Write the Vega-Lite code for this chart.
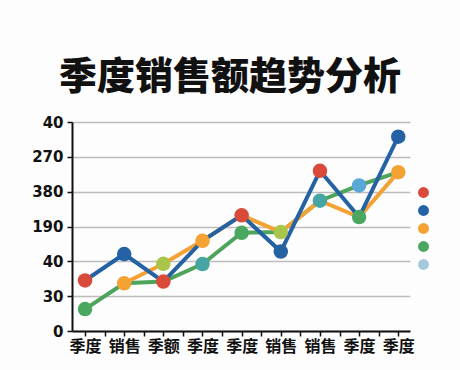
{
  "$schema": "https://vega.github.io/schema/vega-lite/v6.json",
  "width": 338,
  "height": 209,
  "autosize": {"type": "none"},
  "padding": {"left": 72, "top": 122, "right": 50, "bottom": 39},
  "background": "#fdfdfd",
  "title": {
    "text": "季度销售额趋势分析",
    "font": "Noto Sans CJK SC",
    "fontSize": 38,
    "fontWeight": 900,
    "color": "#111111",
    "anchor": "middle",
    "dx": -11,
    "offset": 18
  },
  "datasets": {
    "lines": [
      {"s": "green", "x": 1, "v": 0.63},
      {"s": "green", "x": 2, "v": 1.37},
      {"s": "green", "x": 3, "v": 1.42},
      {"s": "green", "x": 4, "v": 1.92},
      {"s": "green", "x": 5, "v": 2.82},
      {"s": "green", "x": 6, "v": 2.84},
      {"s": "green", "x": 7, "v": 3.74},
      {"s": "green", "x": 8, "v": 4.18},
      {"s": "green", "x": 9, "v": 4.56},
      {"s": "orange", "x": 2, "v": 1.37},
      {"s": "orange", "x": 3, "v": 1.93},
      {"s": "orange", "x": 4, "v": 2.59},
      {"s": "orange", "x": 5, "v": 3.32},
      {"s": "orange", "x": 6, "v": 2.84},
      {"s": "orange", "x": 7, "v": 3.74},
      {"s": "orange", "x": 8, "v": 3.27},
      {"s": "orange", "x": 9, "v": 4.56},
      {"s": "blue", "x": 1, "v": 1.45},
      {"s": "blue", "x": 2, "v": 2.21},
      {"s": "blue", "x": 3, "v": 1.42},
      {"s": "blue", "x": 4, "v": 2.59},
      {"s": "blue", "x": 5, "v": 3.32},
      {"s": "blue", "x": 6, "v": 2.28},
      {"s": "blue", "x": 7, "v": 4.6},
      {"s": "blue", "x": 8, "v": 3.27},
      {"s": "blue", "x": 9, "v": 5.58}
    ],
    "points": [
      {"x": 1, "v": 1.45, "c": "red"},
      {"x": 1, "v": 0.63, "c": "green"},
      {"x": 2, "v": 2.21, "c": "blue"},
      {"x": 2, "v": 1.37, "c": "orange"},
      {"x": 3, "v": 1.93, "c": "yellowgreen"},
      {"x": 3, "v": 1.42, "c": "red"},
      {"x": 4, "v": 2.59, "c": "orange"},
      {"x": 4, "v": 1.92, "c": "teal"},
      {"x": 5, "v": 3.32, "c": "red"},
      {"x": 5, "v": 2.82, "c": "green"},
      {"x": 6, "v": 2.84, "c": "yellowgreen"},
      {"x": 6, "v": 2.28, "c": "blue"},
      {"x": 7, "v": 4.6, "c": "red"},
      {"x": 7, "v": 3.74, "c": "teal"},
      {"x": 8, "v": 4.18, "c": "skyblue"},
      {"x": 8, "v": 3.27, "c": "green"},
      {"x": 9, "v": 5.58, "c": "blue"},
      {"x": 9, "v": 4.56, "c": "orange"}
    ]
  },
  "encoding": {
    "x": {
      "field": "x", "type": "quantitative",
      "scale": {"domain": [0.667, 9.3], "nice": false, "zero": false},
      "axis": {
        "title": null,
        "values": [1, 1.5, 2, 2.5, 3, 3.5, 4, 4.5, 5, 5.5, 6, 6.5, 7, 7.5, 8, 8.5, 9],
        "labelExpr": "datum.value % 1 == 0 ? ['季度','销售','季额','季度','季度','销售','销售','季度','季度'][datum.value - 1] : ''",
        "grid": false,
        "domainColor": "#111111",
        "domainWidth": 2,
        "tickColor": "#111111",
        "tickWidth": 1.5,
        "tickSize": 5,
        "labelFont": "Noto Sans CJK SC",
        "labelFontSize": 16,
        "labelFontWeight": "bold",
        "labelColor": "#111111",
        "labelPadding": 2,
        "labelOverlap": false
      }
    },
    "y": {
      "field": "v", "type": "quantitative",
      "scale": {"domain": [0, 6], "nice": false},
      "axis": {
        "title": null,
        "values": [0, 1, 2, 3, 4, 5, 6],
        "labelExpr": "['0','30','40','190','380','270','40'][datum.value]",
        "labelOverlap": false,
        "gridColor": "#bdbdbd",
        "gridWidth": 1.5,
        "domainColor": "#111111",
        "domainWidth": 2,
        "tickColor": "#111111",
        "tickWidth": 1.5,
        "tickSize": 5,
        "labelFont": "DejaVu Sans",
        "labelFontSize": 15,
        "labelFontWeight": "bold",
        "labelColor": "#111111",
        "labelPadding": 4
      }
    }
  },
  "layer": [
    {
      "data": {"name": "lines"},
      "mark": {"type": "line", "strokeWidth": 4},
      "encoding": {
        "color": {
          "field": "s", "type": "nominal",
          "scale": {"domain": ["green", "orange", "blue"], "range": ["#4fa45c", "#f4a233", "#2462a3"]},
          "legend": null
        }
      }
    },
    {
      "data": {"name": "points"},
      "mark": {"type": "circle", "opacity": 1, "size": 210},
      "encoding": {
        "color": {
          "field": "c", "type": "nominal",
          "scale": {
            "domain": ["red", "blue", "orange", "green", "lightblue", "yellowgreen", "teal", "skyblue"],
            "range": ["#d94a3a", "#2462a3", "#f4a233", "#4aa760", "#a6c8dc", "#a9c64a", "#47a5a3", "#5aa8d6"]
          },
          "legend": {
            "values": ["red", "blue", "orange", "green", "lightblue"],
            "orient": "none",
            "legendX": 345,
            "legendY": 64,
            "title": null,
            "labelExpr": "''",
            "labelFontSize": 8,
            "symbolSize": 120,
            "symbolType": "circle",
            "rowPadding": 6,
            "padding": 0
          }
        }
      }
    }
  ],
  "resolve": {"scale": {"color": "independent"}},
  "config": {"view": {"stroke": null}}
}
